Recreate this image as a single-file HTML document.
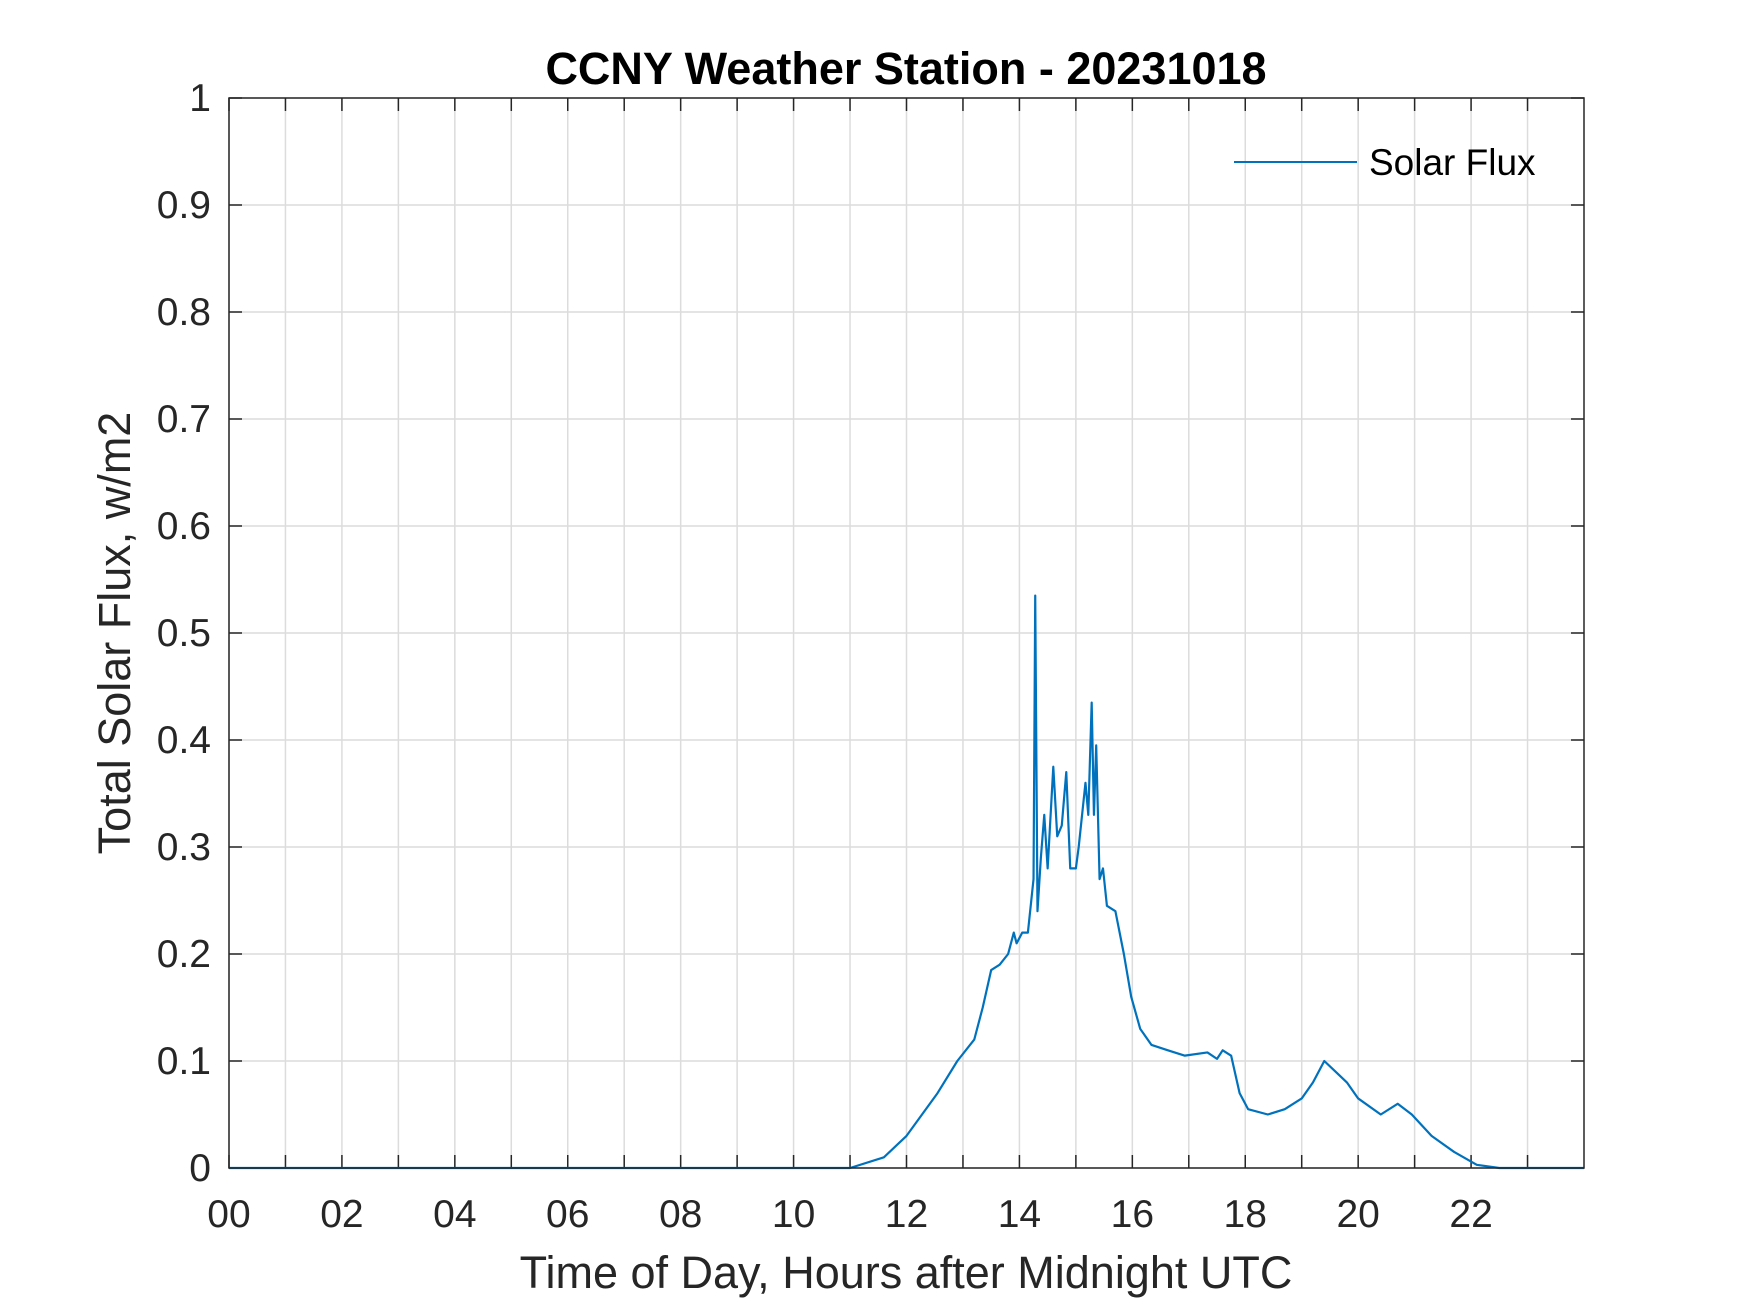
<!DOCTYPE html>
<html><head><meta charset="utf-8"><style>body{margin:0;background:#fff}svg{display:block;font-family:"Liberation Sans",Arial,sans-serif}</style></head>
<body>
<svg id="chart" width="1750" height="1313" viewBox="0 0 1750 1313">
<rect width="1750" height="1313" fill="#fff"/>
<g id="grid"></g>
<g id="ticks"></g>
<g id="series"></g>
<rect x="229" y="98" width="1355" height="1070" fill="none" stroke="#262626" stroke-width="1.5"/>
<text x="906" y="84" text-anchor="middle" font-size="45" font-weight="bold" fill="#000">CCNY Weather Station - 20231018</text>
<text x="906" y="1288" text-anchor="middle" font-size="45" fill="#262626">Time of Day, Hours after Midnight UTC</text>
<text transform="translate(130,633) rotate(-90)" text-anchor="middle" font-size="45" fill="#262626">Total Solar Flux, w/m2</text>
<g>
<line x1="1234" y1="162" x2="1357" y2="162" stroke="#0072BD" stroke-width="2"/>
<text x="1369" y="175" font-size="37" fill="#000">Solar Flux</text>
</g>
</svg>
<script>
const hours = [0,11.0,11.6,12,12.55,12.9,13.2,13.35,13.5,13.65,13.8,13.9,13.95,14.05,14.15,14.25,14.28,14.32,14.38,14.44,14.5,14.6,14.67,14.75,14.83,14.9,15,15.05,15.17,15.22,15.28,15.32,15.36,15.42,15.48,15.55,15.7,15.85,15.98,16.14,16.34,16.63,16.93,17.33,17.5,17.6,17.75,17.9,18.05,18.4,18.7,19,19.2,19.4,19.6,19.8,20,20.4,20.7,20.95,21.3,21.7,22.1,22.5,24];
const flux = [0,0,0.01,0.03,0.07,0.1,0.12,0.15,0.185,0.19,0.2,0.22,0.21,0.22,0.22,0.27,0.535,0.24,0.29,0.33,0.28,0.375,0.31,0.32,0.37,0.28,0.28,0.3,0.36,0.33,0.435,0.33,0.395,0.27,0.28,0.245,0.24,0.2,0.16,0.13,0.115,0.11,0.105,0.108,0.102,0.11,0.105,0.07,0.055,0.05,0.055,0.065,0.08,0.1,0.09,0.08,0.065,0.05,0.06,0.05,0.03,0.015,0.003,0,0];
const yTicks = [0,0.1,0.2,0.3,0.4,0.5,0.6,0.7,0.8,0.9,1];
const yTickLabels = ["0","0.1","0.2","0.3","0.4","0.5","0.6","0.7","0.8","0.9","1"];
const xTicks = [0,1,2,3,4,5,6,7,8,9,10,11,12,13,14,15,16,17,18,19,20,21,22,23];
const xTickLabels = ["00","","02","","04","","06","","08","","10","","12","","14","","16","","18","","20","","22",""];
const X0=229,X1=1584,Y0=1168,Y1=98;
const sx=h=>X0+(h/24)*(X1-X0);
const sy=v=>Y0-v*(Y0-Y1);
const NS="http://www.w3.org/2000/svg";
const grid=document.getElementById('grid'),ticks=document.getElementById('ticks'),series=document.getElementById('series');
function mk(tag,attrs,parent){const e=document.createElementNS(NS,tag);for(const k in attrs)e.setAttribute(k,attrs[k]);parent.appendChild(e);return e;}
xTicks.forEach((h,i)=>{
  const x=sx(h);
  const g=mk('line',{x1:x,x2:x,y1:Y1,y2:Y0,stroke:'#dcdcdc','stroke-width':1.5},grid);
  
  
  mk('line',{x1:x,x2:x,y1:Y0,y2:Y0-13,stroke:'#262626','stroke-width':1.5},ticks);
  mk('line',{x1:x,x2:x,y1:Y1,y2:Y1+13,stroke:'#262626','stroke-width':1.5},ticks);
  if(xTickLabels[i]){const t=mk('text',{x:x,y:1227,'text-anchor':'middle','font-size':39,fill:'#262626'},ticks);t.textContent=xTickLabels[i];
  
  }
});
yTicks.forEach((v,i)=>{
  const y=sy(v);
  const g=mk('line',{x1:X0,x2:X1,y1:y,y2:y,stroke:'#dcdcdc','stroke-width':1.5},grid);
  
  
  mk('line',{x1:X0,x2:X0+13,y1:y,y2:y,stroke:'#262626','stroke-width':1.5},ticks);
  mk('line',{x1:X1,x2:X1-13,y1:y,y2:y,stroke:'#262626','stroke-width':1.5},ticks);
  const t=mk('text',{x:211,y:y+13,'text-anchor':'end','font-size':39,fill:'#262626'},ticks);t.textContent=yTickLabels[i];
  
  
});
const p=mk('polyline',{points:hours.map((h,i)=>sx(h)+','+sy(flux[i])).join(' '),fill:'none',stroke:'#0072BD','stroke-width':2.2,'stroke-linejoin':'round'},series);


</script>
</body></html>
